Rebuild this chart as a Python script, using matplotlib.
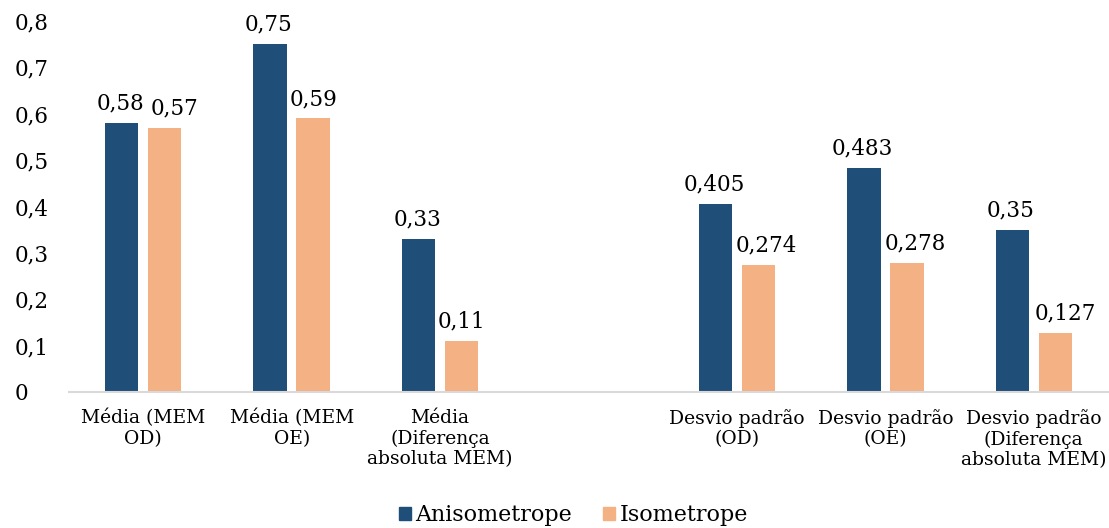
import numpy as np
import matplotlib.pyplot as plt
from matplotlib.ticker import FuncFormatter

categories = [
    "Média (MEM\nOD)",
    "Média (MEM\nOE)",
    "Média\n(Diferença\nabsoluta MEM)",
    "",
    "Desvio padrão\n(OD)",
    "Desvio padrão\n(OE)",
    "Desvio padrão\n(Diferença\nabsoluta MEM)",
]
aniso = [0.58, 0.75, 0.33, None, 0.405, 0.483, 0.35]
iso = [0.57, 0.59, 0.11, None, 0.274, 0.278, 0.127]
aniso_labels = ["0,58", "0,75", "0,33", "", "0,405", "0,483", "0,35"]
iso_labels = ["0,57", "0,59", "0,11", "", "0,274", "0,278", "0,127"]

BLUE = "#1F4E79"
ORANGE = "#F4B183"

plt.rcParams["font.family"] = ["DejaVu Serif"]

fig = plt.figure(figsize=(11.09, 5.28), dpi=100)
ax = fig.add_axes([69 / 1109, 1 - 392 / 528, 1039 / 1109, 371 / 528])

x = np.arange(len(categories))
w = 0.225
off = 0.145
# nudge some orange labels sideways so they clear the neighbouring label
iso_dx = [7, 0, 0, 0, 6, 6, 7]

for xi, a, i, la, li, dx in zip(x, aniso, iso, aniso_labels, iso_labels, iso_dx):
    if a is None:
        continue
    ax.bar(xi - off, a, width=w, color=BLUE)
    ax.bar(xi + off, i, width=w, color=ORANGE)
    ax.annotate(la, (xi - off, a), xytext=(-1, 6), textcoords="offset points",
                ha="center", va="bottom", fontsize=15.5)
    ax.annotate(li, (xi + off, i), xytext=(dx, 6), textcoords="offset points",
                ha="center", va="bottom", fontsize=15.5)

ax.set_xlim(-0.5, len(categories) - 0.5)
ax.set_ylim(0, 0.8)
ax.set_yticks(np.arange(0, 0.81, 0.1))
ax.yaxis.set_major_formatter(FuncFormatter(
    lambda v, _: "0" if abs(v) < 1e-9 else f"{v:.1f}".replace(".", ",")))
ax.set_xticks(x)
ax.set_xticklabels(categories, linespacing=1.2)
ax.tick_params(axis="both", length=0)
ax.tick_params(axis="x", labelsize=13.5, pad=12)
ax.tick_params(axis="y", labelsize=15.5, pad=39.5)
for lbl in ax.get_yticklabels():
    lbl.set_horizontalalignment("left")

for side in ["top", "right", "left"]:
    ax.spines[side].set_visible(False)
ax.spines["bottom"].set_color("#D9D9D9")
ax.spines["bottom"].set_linewidth(1.5)

handles = [plt.Rectangle((0, 0), 1, 1, color=BLUE),
           plt.Rectangle((0, 0), 1, 1, color=ORANGE)]
fig.legend(handles, ["Anisometrope", "Isometrope"], loc="lower center",
           bbox_to_anchor=(0.517, -0.035), ncol=2, frameon=False, fontsize=16,
           handlelength=0.55, handleheight=0.55, handletextpad=0.2,
           columnspacing=1.4)

fig.savefig("out.png", dpi=100)
